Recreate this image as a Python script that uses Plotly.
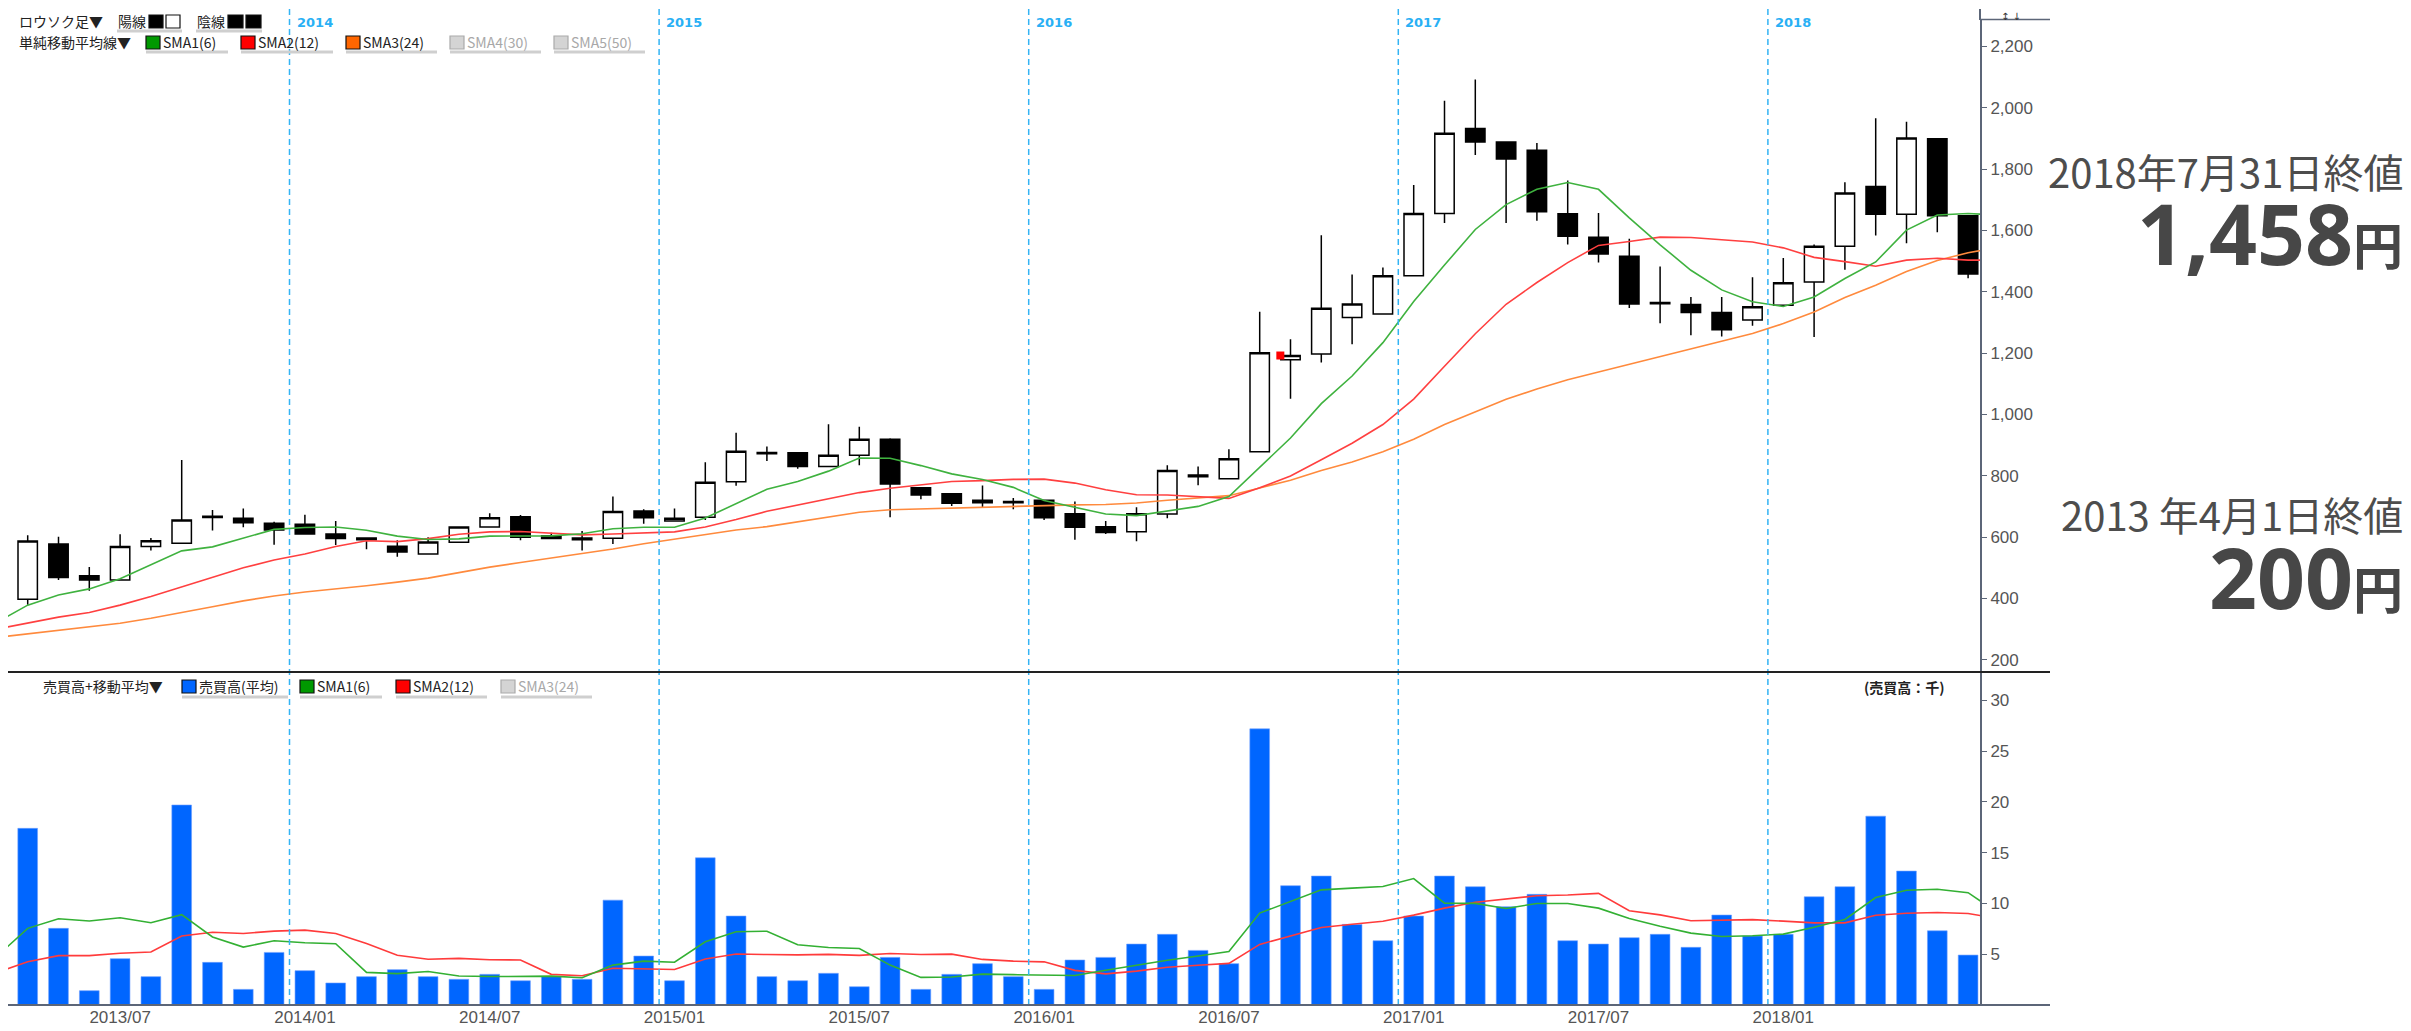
import plotly.graph_objects as go

# ---------------- data ----------------
months = [f"{2013 + (m + 3) // 12}/{(m + 3) % 12 + 1:02d}" for m in range(64)]  # 2013/04 .. 2018/07

opens = [397, 577, 474, 460, 569, 580, 668, 661, 645, 642, 610, 597, 570, 545, 583, 633,
         666, 604, 597, 596, 685, 652, 665, 780, 876, 875, 830, 867, 919, 761, 741, 712,
         716, 720, 676, 634, 617, 675, 802, 790, 878, 1178, 1197, 1316, 1327, 1452, 1655, 1932,
         1888, 1861, 1654, 1578, 1516, 1365, 1358, 1332, 1308, 1356, 1432, 1548, 1743, 1653, 1899, 1648]
highs = [606, 601, 502, 609, 597, 851, 688, 693, 650, 673, 652, 597, 590, 599, 633, 678,
         672, 614, 620, 732, 691, 693, 844, 940, 895, 875, 968, 960, 922, 761, 741, 768,
         727, 720, 716, 652, 697, 834, 830, 886, 1335, 1245, 1584, 1456, 1479, 1748, 2023, 2092,
         1888, 1885, 1763, 1657, 1573, 1482, 1383, 1383, 1447, 1510, 1554, 1757, 1966, 1954, 1899, 1648]
lows = [379, 460, 425, 458, 556, 578, 621, 632, 575, 610, 574, 560, 536, 545, 581, 633,
        590, 595, 556, 577, 643, 652, 656, 767, 848, 823, 828, 834, 665, 723, 701, 695,
        691, 656, 591, 610, 586, 661, 769, 790, 878, 1051, 1169, 1229, 1327, 1452, 1624, 1846,
        1624, 1631, 1554, 1495, 1347, 1297, 1258, 1254, 1289, 1356, 1252, 1472, 1583, 1558, 1594, 1444]
closes = [587, 468, 460, 569, 588, 656, 664, 647, 623, 610, 595, 591, 551, 584, 633, 663,
          599, 595, 591, 683, 663, 661, 779, 880, 872, 830, 867, 919, 773, 737, 710, 720,
          712, 663, 632, 615, 676, 817, 797, 855, 1201, 1192, 1346, 1360, 1452, 1655, 1917, 1888,
          1833, 1661, 1581, 1523, 1360, 1361, 1332, 1276, 1351, 1429, 1548, 1722, 1653, 1901, 1648, 1458]

# moving averages (first point = month before 2013/04, last = 2018/08)
sma6 = [322, 378, 411, 431, 464, 509, 555, 568, 597, 625, 631, 633, 622, 603, 592, 594, 603, 604, 604,
        611, 627, 632, 632, 662, 710, 756, 781, 815, 858, 857, 833, 806, 788, 762, 719, 696, 675, 670,
        686, 700, 732, 827, 923, 1035, 1125, 1234, 1368, 1487, 1603, 1684, 1734, 1756, 1734, 1641, 1553,
        1470, 1406, 1367, 1352, 1383, 1443, 1497, 1601, 1650, 1655, 1650]
sma12 = [300, 319, 339, 354, 378, 406, 438, 469, 500, 525, 545, 569, 588, 585, 595, 609, 617, 618, 613,
         607, 610, 613, 617, 633, 657, 684, 704, 724, 745, 759, 771, 781, 784, 788, 789, 776, 754, 738,
         737, 731, 726, 761, 799, 852, 906, 967, 1050, 1157, 1263, 1359, 1430, 1495, 1551, 1564, 1578,
         1577, 1570, 1562, 1543, 1512, 1498, 1483, 1503, 1509, 1503, 1503]
sma24 = [273, 284, 295, 306, 319, 335, 355, 373, 392, 408, 421, 430, 441, 453, 466, 484, 502, 517, 531,
         545, 561, 578, 593, 607, 623, 634, 650, 666, 681, 689, 692, 694, 697, 701, 703, 705, 706, 711,
         720, 727, 735, 760, 785, 817, 845, 878, 919, 967, 1009, 1049, 1083, 1113, 1138, 1163, 1189,
         1215, 1238, 1264, 1296, 1334, 1381, 1421, 1466, 1502, 1527, 1545]

volume = [17.4, 7.55, 1.41, 4.56, 2.79, 19.7, 4.2, 1.54, 5.18, 3.38, 2.17, 2.79, 3.48, 2.79, 2.53, 3.02,
          2.39, 2.8, 2.53, 10.33, 4.82, 2.39, 14.5, 8.76, 2.79, 2.39, 3.12, 1.8, 4.69, 1.54, 3.02, 4.07,
          2.79, 1.54, 4.43, 4.69, 6.0, 6.96, 5.38, 4.07, 27.2, 11.75, 12.7, 7.94, 6.33, 8.76, 12.7, 11.65,
          9.68, 10.9, 6.33, 6.0, 6.63, 6.96, 5.68, 8.86, 6.79, 6.96, 10.66, 11.65, 18.6, 13.19, 7.31, 4.92]
vol_sma6 = [4.8, 7.55, 8.5, 8.27, 8.6, 8.1, 8.9, 6.7, 5.7, 6.33, 6.13, 6.03, 3.21, 3.09, 3.3, 2.86, 2.8,
            2.83, 2.84, 2.68, 3.93, 4.32, 4.21, 6.23, 7.22, 7.27, 5.94, 5.66, 5.56, 3.93, 2.72, 2.76, 3.04,
            2.99, 2.94, 2.9, 3.42, 3.92, 4.4, 4.83, 5.26, 9.05, 10.23, 11.34, 11.51, 11.67, 12.45, 10.03,
            10.01, 9.51, 10.0, 10.0, 9.54, 8.53, 7.75, 7.08, 6.74, 6.82, 6.98, 7.65, 8.43, 10.59, 11.31,
            11.4, 11.06, 9.0]
vol_sma12 = [3.2, 4.27, 4.86, 4.86, 5.09, 5.22, 6.8, 7.16, 7.05, 7.28, 7.38, 7.05, 6.06, 4.9, 4.5, 4.59,
             4.46, 4.43, 3.02, 2.88, 3.62, 3.59, 3.5, 4.53, 5.03, 4.97, 4.94, 4.99, 4.89, 5.08, 4.97, 5.01,
             4.49, 4.32, 4.25, 3.41, 3.07, 3.34, 3.72, 3.91, 4.1, 5.97, 6.83, 7.63, 7.95, 8.25, 8.85, 9.54,
             10.12, 10.43, 10.76, 10.83, 10.99, 9.28, 8.88, 8.3, 8.37, 8.41, 8.26, 8.09, 8.09, 8.84, 9.03,
             9.11, 9.02, 8.5]

tick_labels = ["2013/07", "2014/01", "2014/07", "2015/01", "2015/07", "2016/01",
               "2016/07", "2017/01", "2017/07", "2018/01"]
year_labels = ["2014", "2015", "2016", "2017", "2018"]
price_ticks = [200, 400, 600, 800, 1000, 1200, 1400, 1600, 1800, 2000, 2200]
volume_ticks = [5, 10, 15, 20, 25, 30]
event_month = "2016/09"

# ---------------- geometry (page pixels; the html body adds an 8px margin) ----------------
OFF = 8
W, H = 2411 - OFF, 1031 - OFF
PL, PR, PT, PB = OFF, 1980, 20, 1005      # plot area in page pixels
SEP = 672
X0, DX = 27.7, 30.8                       # first candle centre / month spacing (page px)


def px(x):
    return (x - PL) / (PR - PL)


def py(y):
    return (PB - y) / (PB - PT)


xi = list(range(len(months)))
xs = list(range(-1, len(months) + 1))
tick_pos = [months.index(t) for t in tick_labels]
year_pos = [months.index(y + "/01") - 0.5 for y in year_labels]
ev = months.index(event_month)

fig = go.Figure()

fig.add_trace(go.Candlestick(
    x=xi, open=opens, high=highs, low=lows, close=closes,
    increasing=dict(line=dict(color="black", width=1.5), fillcolor="white"),
    decreasing=dict(line=dict(color="black", width=1.5), fillcolor="black"),
    whiskerwidth=0, xaxis="x", yaxis="y", hoverinfo="skip"))

for vals, col in [(sma24, "#ff8a3d"), (sma12, "#ff4040"), (sma6, "#3fb23f")]:
    fig.add_trace(go.Scatter(x=xs, y=vals, mode="lines", line=dict(color=col, width=1.6),
                             xaxis="x", yaxis="y", hoverinfo="skip"))

fig.add_trace(go.Scatter(x=[ev - 0.33], y=[closes[ev]], mode="markers",
                         marker=dict(symbol="square", color="#ff0000", size=8),
                         xaxis="x", yaxis="y", hoverinfo="skip"))

fig.add_trace(go.Bar(x=xi, y=volume, marker=dict(color="#0066ff", line=dict(color="#6f9fff", width=0.6)),
                     xaxis="x2", yaxis="y2", hoverinfo="skip"))
for vals, col in [(vol_sma12, "#ff3b3b"), (vol_sma6, "#33b033")]:
    fig.add_trace(go.Scatter(x=xs, y=vals, mode="lines", line=dict(color=col, width=1.6),
                             xaxis="x2", yaxis="y2", hoverinfo="skip"))

xr = [(PL - X0) / DX, (PR - X0) / DX]
axis_col = "#5c6678"
tick_font = dict(family="Liberation Sans, Arial", size=17, color="#555555")
dom_split = py(SEP)

fig.update_layout(
    width=W, height=H, autosize=False,
    margin=dict(l=PL - OFF, r=W - (PR - OFF), t=PT - OFF, b=H - (PB - OFF), pad=0),
    paper_bgcolor="white", plot_bgcolor="white",
    showlegend=False,
    boxgap=0.37, boxgroupgap=0, bargap=0.36,
    font=dict(family="Liberation Sans, Noto Sans CJK JP", color="#333"),
    xaxis=dict(domain=[0, 1], range=xr, anchor="y", showticklabels=False, showgrid=False,
               zeroline=False, showline=False, rangeslider=dict(visible=False), fixedrange=True),
    yaxis=dict(domain=[dom_split, 1], range=[160, 2286], side="right", anchor="x",
               showline=True, linecolor=axis_col, linewidth=2, ticks="outside", ticklen=5,
               tickcolor=axis_col, tickvals=price_ticks, tickformat=",d", tickfont=tick_font,
               showgrid=False, zeroline=False),
    xaxis2=dict(domain=[0, 1], range=xr, anchor="y2", tickvals=tick_pos, ticktext=tick_labels,
                tickfont=dict(family="Liberation Sans Narrow, Liberation Sans", size=17, color="#555555"),
                showgrid=False, zeroline=False, showline=False, ticks=""),
    yaxis2=dict(domain=[0, dom_split], range=[0, 32.8], side="right", anchor="x2",
                showline=True, linecolor=axis_col, linewidth=2, ticks="outside", ticklen=5,
                tickcolor=axis_col, tickvals=volume_ticks, tickfont=tick_font,
                showgrid=False, zeroline=False),
)

shapes = []
# year separators
for p in year_pos:
    shapes.append(dict(type="line", xref="x", yref="paper", x0=p, x1=p, y0=0, y1=py(OFF),
                       line=dict(color="#33b4f5", width=1.5, dash="6px,4px")))
# panel lines
shapes.append(dict(type="line", xref="paper", yref="paper", x0=px(PL), x1=px(2050), y0=py(SEP), y1=py(SEP),
                   line=dict(color="#222222", width=2)))
shapes.append(dict(type="line", xref="paper", yref="paper", x0=px(PL), x1=px(2050), y0=py(PB), y1=py(PB),
                   line=dict(color=axis_col, width=2)))
shapes.append(dict(type="line", xref="paper", yref="paper", x0=px(PR), x1=px(2050), y0=py(19.6), y1=py(19.6),
                   line=dict(color=axis_col, width=1.5)))
shapes.append(dict(type="line", xref="paper", yref="paper", x0=px(PR), x1=px(PR), y0=py(20), y1=py(9),
                   line=dict(color=axis_col, width=2)))

annotations = []


def text(x, y, s, size=14, color="#222222", anchor="left", family="Noto Sans CJK JP", ymid="middle"):
    annotations.append(dict(xref="paper", yref="paper", x=px(x), y=py(y), text=s, showarrow=False,
                            xanchor=anchor, yanchor=ymid,
                            font=dict(family=family, size=size, color=color)))


def box(x0, y0, x1, y1, fill, border="#111111"):
    shapes.append(dict(type="rect", xref="paper", yref="paper", x0=px(x0), x1=px(x1), y0=py(y1), y1=py(y0),
                       fillcolor=fill, line=dict(color=border, width=1.2)))


def underline(x0, x1, y):
    shapes.append(dict(type="line", xref="paper", yref="paper", x0=px(x0), x1=px(x1), y0=py(y), y1=py(y),
                       line=dict(color="#cfcfcf", width=3)))


# legend row 1
text(17, 21, "ロウソク足▼")
underline(117, 182, 31)
text(116, 21, "陽線")
box(149, 15, 163, 28, "#000000")
box(166, 15, 180, 28, "#ffffff")
underline(196, 262, 31)
text(195, 21, "陰線")
box(228, 15, 243, 28, "#000000")
box(246, 15, 261, 28, "#000000")

# legend row 2
text(17, 42, "単純移動平均線▼")
for x0, x1, lab, col, tcol in [(146, 228, "SMA1(6)", "#009900", "#222222"),
                               (241, 333, "SMA2(12)", "#ff0000", "#222222"),
                               (346, 437, "SMA3(24)", "#ff6600", "#222222"),
                               (450, 541, "SMA4(30)", "#d4d4d4", "#a8a8a8"),
                               (554, 645, "SMA5(50)", "#d4d4d4", "#a8a8a8")]:
    underline(x0, x1, 52)
    box(x0, 36, x0 + 14, 49, col, "#111111" if tcol == "#222222" else "#aaaaaa")
    text(x0 + 15, 42, lab, color=tcol)

# volume legend
text(41, 686, "売買高+移動平均▼")
for x0, x1, lab, col, tcol in [(182, 288, "売買高(平均)", "#0066ff", "#222222"),
                               (300, 382, "SMA1(6)", "#009900", "#222222"),
                               (396, 487, "SMA2(12)", "#ff0000", "#222222"),
                               (501, 592, "SMA3(24)", "#d4d4d4", "#a8a8a8")]:
    underline(x0, x1, 697)
    box(x0, 680, x0 + 14, 693, col, "#111111" if tcol == "#222222" else "#aaaaaa")
    text(x0 + 15, 686, lab, color=tcol)

text(1947, 687, "<b>(売買高：千)</b>", size=14, anchor="right")
text(2011, 9, "↕ ↓", size=10, color="#333333", anchor="center", family="DejaVu Sans", ymid="top")

# year labels
for p, lab in zip(year_pos, year_labels):
    annotations.append(dict(xref="x", yref="paper", x=p, y=py(23), text="<b>" + lab + "</b>", showarrow=False,
                            xanchor="left", yanchor="middle", xshift=5,
                            font=dict(family="DejaVu Sans", size=13, color="#29b0f5")))

# right-hand notes
big = "Open Sans, Noto Sans CJK JP"
text(2405, 171, "2018年7月31日終値", size=40, color="#4d4d4d", anchor="right")
text(2405, 233, "<b>1,458</b><b><span style='font-size:50px'>円</span></b>", size=84,
     color="#474747", anchor="right", family=big)
text(2405, 514, "2013 年4月1日終値", size=40, color="#4d4d4d", anchor="right")
text(2405, 576, "<b>200</b><b><span style='font-size:50px'>円</span></b>", size=84,
     color="#474747", anchor="right", family=big)

fig.update_layout(shapes=shapes, annotations=annotations)
fig.write_html("out.html")
